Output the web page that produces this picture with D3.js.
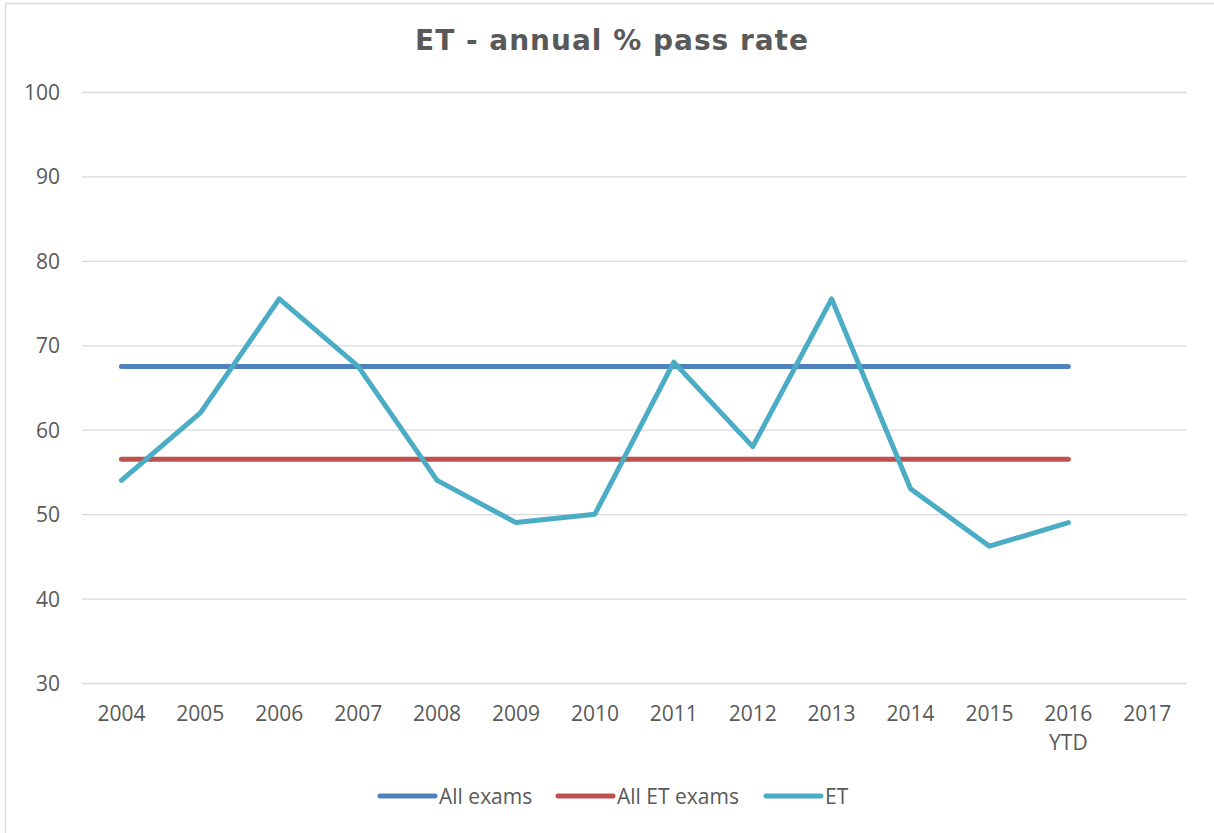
<!DOCTYPE html>
<html>
<head>
<meta charset="utf-8">
<script src="https://cdn.jsdelivr.net/npm/d3@7"></script>
<style>
  html, body { margin: 0; padding: 0; background: #fff; }
  svg { display: block; }
</style>
</head>
<body>
<script>
const categories = ["2004","2005","2006","2007","2008","2009","2010","2011","2012","2013","2014","2015","2016\nYTD","2017"];
const allExams   = [67.5,67.5,67.5,67.5,67.5,67.5,67.5,67.5,67.5,67.5,67.5,67.5,67.5,null];
const allETExams = [56.5,56.5,56.5,56.5,56.5,56.5,56.5,56.5,56.5,56.5,56.5,56.5,56.5,null];
const etValues   = [54,62,75.5,67.5,54,49,50,68,58,75.5,53,46.2,49,null];
const yTicks = [30,40,50,60,70,80,90,100];
const seriesNames = ["All exams","All ET exams","ET"];
const seriesColors = ["#4F81BD","#C0504D","#4BACC6"];

const W = 1214, H = 833;
const margin = {left: 82, right: 1214 - 1186.7, top: 92, bottom: 833 - 683};
const svg = d3.select("body").append("svg").attr("width", W).attr("height", H);

// chart border (only top/left visible in the crop)
svg.append("rect").attr("x", 5.5).attr("y", 3.5).attr("width", W + 20).attr("height", H + 20)
  .attr("fill", "#fff").attr("stroke", "#d9d9d9").attr("stroke-width", 1.5);

const x = d3.scaleBand().domain(categories).range([margin.left, W - margin.right]);
const y = d3.scaleLinear().domain([30, 100]).range([H - margin.bottom, margin.top]);

// title
svg.append("text").attr("x", 415).attr("y", 50)
  .attr("font-family", "DejaVu Sans, Verdana, sans-serif").attr("font-weight", "bold")
  .attr("font-size", 28).attr("fill", "#595959")
  .attr("textLength", 393).attr("lengthAdjust", "spacing")
  .text("ET - annual % pass rate");

// gridlines + y axis
const yAxis = d3.axisLeft(y).tickValues(yTicks).tickSize(-(x.range()[1] - x.range()[0])).tickPadding(22);
const gy = svg.append("g").attr("transform", `translate(${margin.left},0)`).call(yAxis);
gy.select(".domain").remove();
gy.selectAll(".tick line").attr("stroke", "#d9d9d9").attr("stroke-width", 1.3);
gy.selectAll(".tick text").attr("font-family", "Open Sans, sans-serif").attr("font-size", 21)
  .attr("fill", "#595959").attr("dy", "0.36em");

// x axis labels
const xAxis = d3.axisBottom(x).tickSize(0).tickPadding(0);
const gx = svg.append("g").attr("transform", `translate(0,${H - margin.bottom})`).call(xAxis);
gx.select(".domain").remove();
gx.selectAll(".tick text").each(function(d) {
  const t = d3.select(this);
  t.text(null).attr("y", 0).attr("dy", null)
    .attr("font-family", "Open Sans, sans-serif").attr("font-size", 21).attr("fill", "#595959");
  d.split("\n").forEach((part, i) => {
    t.append("tspan").attr("x", 0).attr("y", 38 + i * 29).text(part);
  });
});

// lines
const cx = d => x(d) + x.bandwidth() / 2;
const line = d3.line().defined(d => d.v != null).x(d => cx(d.c)).y(d => y(d.v));
[allExams, allETExams, etValues].forEach((vals, i) => {
  const data = categories.map((c, j) => ({c, v: vals[j]}));
  svg.append("path").datum(data).attr("d", line).attr("fill", "none")
    .attr("stroke", seriesColors[i]).attr("stroke-width", 5)
    .attr("stroke-linecap", "round").attr("stroke-linejoin", "round");
});

// legend
const legendItems = [
  {x0: 380, name: seriesNames[0], color: seriesColors[0]},
  {x0: 558, name: seriesNames[1], color: seriesColors[1]},
  {x0: 766, name: seriesNames[2], color: seriesColors[2]}
];
const lg = svg.append("g");
legendItems.forEach(it => {
  lg.append("line").attr("x1", it.x0).attr("x2", it.x0 + 55).attr("y1", 796).attr("y2", 796)
    .attr("stroke", it.color).attr("stroke-width", 5).attr("stroke-linecap", "round");
  lg.append("text").attr("x", it.x0 + 59).attr("y", 804).attr("font-family", "Open Sans, sans-serif")
    .attr("font-size", 21).attr("fill", "#595959").text(it.name);
});
</script>
</body>
</html>
